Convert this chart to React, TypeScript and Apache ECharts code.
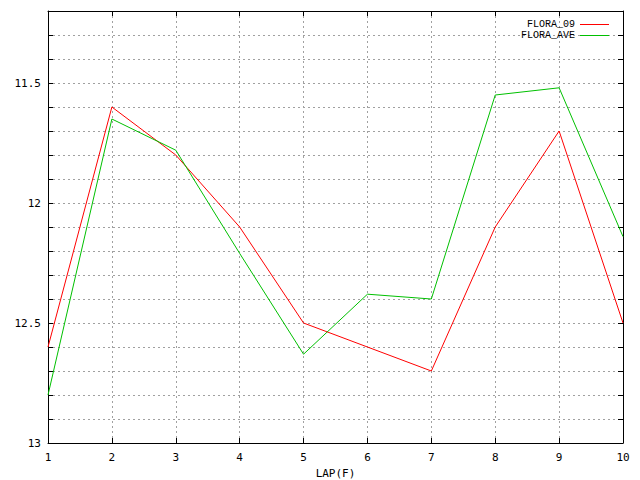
import React, { useEffect, useRef } from "react";
import * as echarts from "echarts";

const laps = [1, 2, 3, 4, 5, 6, 7, 8, 9, 10];
const flora09 = [12.6, 11.6, 11.8, 12.1, 12.5, 12.6, 12.7, 12.1, 11.7, 12.5];
const floraAve = [12.8, 11.65, 11.78, 12.21, 12.63, 12.38, 12.4, 11.55, 11.52, 12.14];
const seriesNames = ["FLORA_09", "FLORA_AVE"];
const xName = "LAP(F)";

const FONT = "DejaVu Sans Mono";
const LEGEND_FONT = "Liberation Mono";

function yLabel(v: number): string {
  const d = v * 2;
  if (Math.abs(d - Math.round(d)) < 1e-6) {
    const r = Math.round(d) / 2;
    return String(r);
  }
  return "";
}

export default function App() {
  const ref = useRef<HTMLDivElement>(null);
  useEffect(() => {
    if (!ref.current) return;
    const chart = echarts.init(ref.current, undefined, { renderer: "svg" });
    const gridLine = { show: true, lineStyle: { color: "#a0a0a0", type: [2, 3] as any, width: 1 } };
    const tick = { show: true, inside: true, length: 5, lineStyle: { color: "#000", width: 1 } };
    const axisLine = { show: true, lineStyle: { color: "#000", width: 1 } };
    const yBase = {
      type: "value" as const,
      inverse: true,
      min: 11.2,
      max: 13,
      interval: 0.1,
      axisLine,
      axisTick: tick,
    };
    const xBase = {
      type: "value" as const,
      min: 1,
      max: 10,
      interval: 1,
      axisLine,
      axisTick: tick,
    };
    chart.setOption({
      animation: false,
      backgroundColor: "#fff",
      grid: { left: 48, right: 17, top: 11, bottom: 37, containLabel: false, outerBoundsMode: "none" },
      legend: {
        data: seriesNames,
        orient: "vertical",
        align: "right",
        right: 26,
        top: 14,
        itemGap: 0,
        itemWidth: 29,
        itemHeight: 1,
        icon: "rect",
        textStyle: { fontFamily: LEGEND_FONT, fontSize: 10, lineHeight: 11, color: "#000" },
      },
      xAxis: [
        {
          ...xBase,
          position: "bottom",
          name: xName,
          nameLocation: "middle",
          nameGap: 25,
          nameTextStyle: { fontFamily: FONT, fontSize: 11, color: "#000" },
          axisLabel: { fontFamily: FONT, fontSize: 11, color: "#000", margin: 9 },
          splitLine: gridLine,
        },
        {
          ...xBase,
          position: "top",
          axisLabel: { show: false },
          splitLine: { show: false },
        },
      ],
      yAxis: [
        {
          ...yBase,
          position: "left",
          axisLabel: { fontFamily: FONT, fontSize: 11, color: "#000", margin: 7, formatter: yLabel, showMinLabel: true, showMaxLabel: true },
          splitLine: gridLine,
        },
        {
          ...yBase,
          position: "right",
          axisLabel: { show: false },
          splitLine: { show: false },
        },
      ],
      series: [
        {
          name: seriesNames[0],
          type: "line",
          data: laps.map((x, i) => [x, flora09[i]]),
          showSymbol: false,
          symbol: "none",
          lineStyle: { color: "#ff0000", width: 1 },
          itemStyle: { color: "#ff0000" },
          xAxisIndex: 0,
          yAxisIndex: 0,
        },
        {
          name: seriesNames[1],
          type: "line",
          data: laps.map((x, i) => [x, floraAve[i]]),
          showSymbol: false,
          symbol: "none",
          lineStyle: { color: "#00c000", width: 1 },
          itemStyle: { color: "#00c000" },
          xAxisIndex: 0,
          yAxisIndex: 0,
        },
      ],
    });
    return () => chart.dispose();
  }, []);
  return (
    <div
      ref={ref}
      style={{ position: "fixed", left: 0, top: 0, width: 640, height: 480, background: "#fff" }}
    />
  );
}
